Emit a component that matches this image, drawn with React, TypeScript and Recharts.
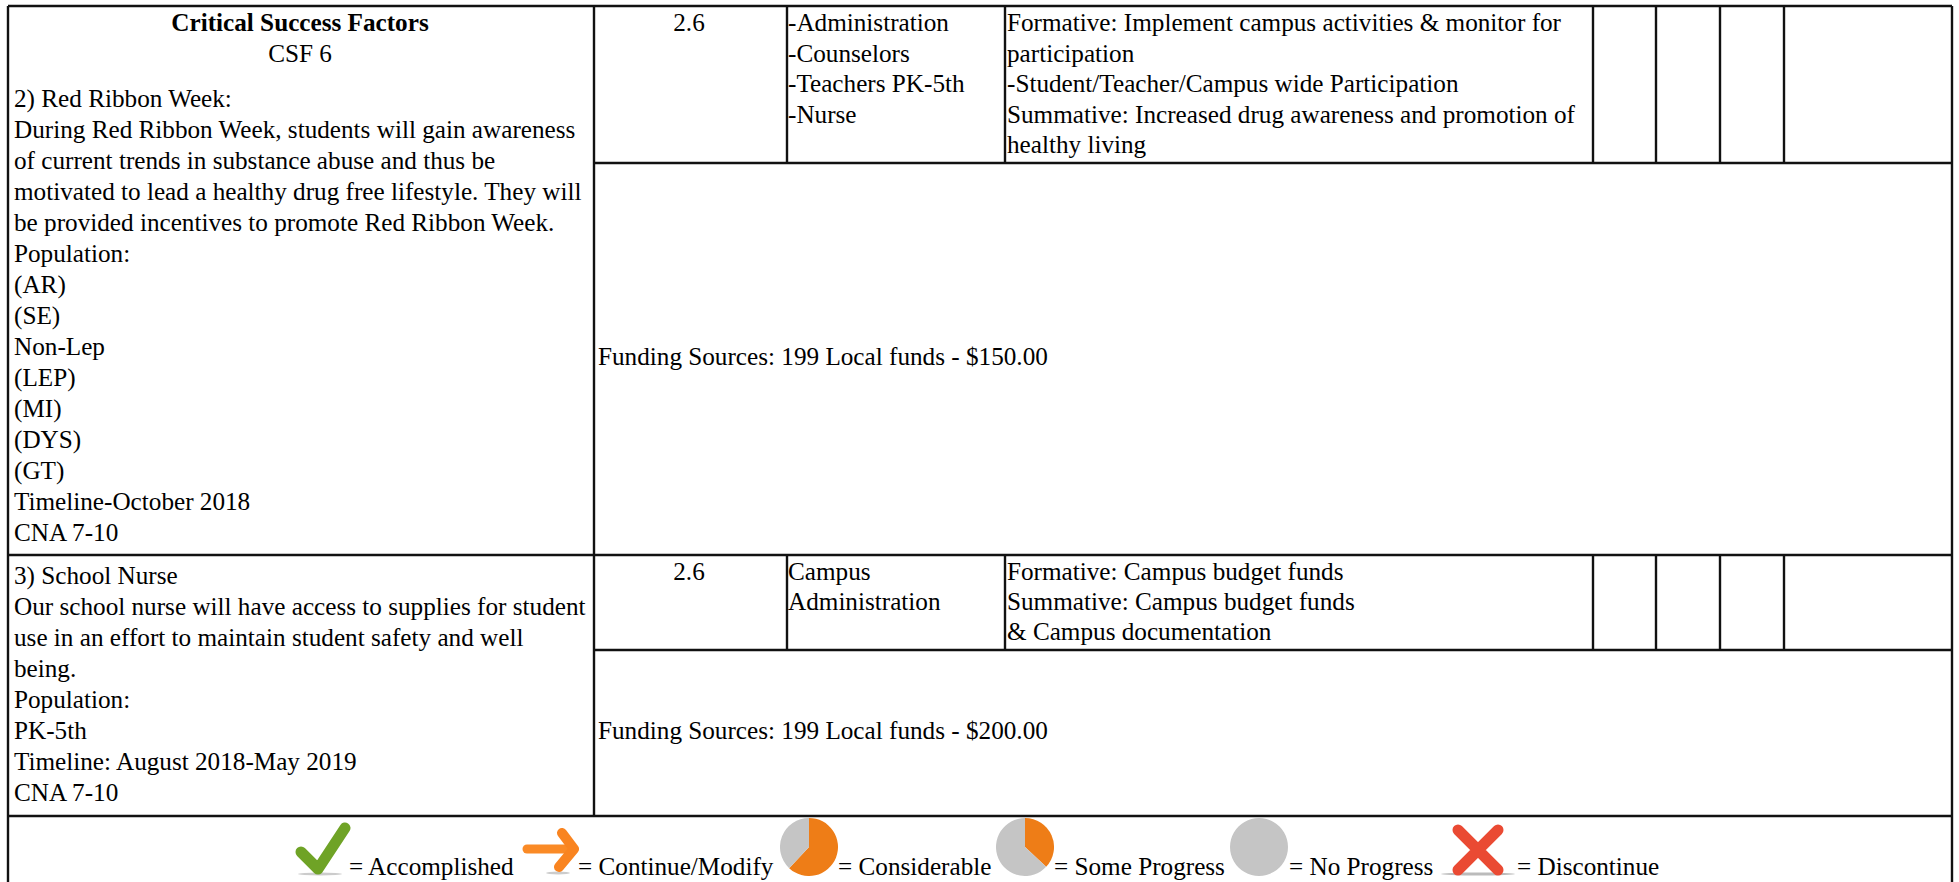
import React from "react";
import { Cell, ComposedChart, Pie, PieChart, ReferenceLine, Scatter, XAxis, YAxis } from "recharts";

const WIDTH = 1959;
const HEIGHT = 882;
const FONT = "'Liberation Serif', 'Times New Roman', serif";
const FONT_SIZE = 25.2;
const LINE = 31;

// text of the cells
const headerLines = ["Critical Success Factors", "CSF 6"];
const redRibbonLines = [
  "2) Red Ribbon Week:",
  "During Red Ribbon Week, students will gain awareness",
  "of current trends in substance abuse and thus be",
  "motivated to lead a healthy drug free lifestyle. They will",
  "be provided incentives to promote Red Ribbon Week.",
  "Population:",
  "(AR)",
  "(SE)",
  "Non-Lep",
  "(LEP)",
  "(MI)",
  "(DYS)",
  "(GT)",
  "Timeline-October 2018",
  "CNA 7-10",
];
const nurseLines = [
  "3) School Nurse",
  "Our school nurse will have access to supplies for student",
  "use in an effort to maintain student safety and well",
  "being.",
  "Population:",
  "PK-5th",
  "Timeline: August 2018-May 2019",
  "CNA 7-10",
];
const strategyRefs = ["2.6"];
const redRibbonStaff = ["-Administration", "-Counselors", "-Teachers PK-5th", "-Nurse"];
const nurseStaff = ["Campus", "Administration"];
const redRibbonEvidence = [
  "Formative: Implement campus activities & monitor for",
  "participation",
  "-Student/Teacher/Campus wide Participation",
  "Summative: Increased drug awareness and promotion of",
  "healthy living",
];
const nurseEvidence = ["Formative: Campus budget funds", "Summative: Campus budget funds", "& Campus documentation"];
const redRibbonFunding = ["Funding Sources: 199 Local funds - $150.00"];
const nurseFunding = ["Funding Sources: 199 Local funds - $200.00"];
const legendLabels = ["= Accomplished", "= Continue/Modify", "= Considerable", "= Some Progress", "= No Progress", "= Discontinue"];

// pie icons of the legend, share of orange vs grey
const considerableShares = [62, 38];
const someProgressShares = [37, 63];
const noProgressShares = [100];

// table rules
const verticalRules = [
  { x: 8, y1: 6, y2: 882 },
  { x: 1952, y1: 6, y2: 882 },
  { x: 594, y1: 6, y2: 816 },
  { x: 787, y1: 6, y2: 163 },
  { x: 1005, y1: 6, y2: 163 },
  { x: 1593, y1: 6, y2: 163 },
  { x: 1656, y1: 6, y2: 163 },
  { x: 1720, y1: 6, y2: 163 },
  { x: 1784, y1: 6, y2: 163 },
  { x: 787, y1: 555, y2: 650 },
  { x: 1005, y1: 555, y2: 650 },
  { x: 1593, y1: 555, y2: 650 },
  { x: 1656, y1: 555, y2: 650 },
  { x: 1720, y1: 555, y2: 650 },
  { x: 1784, y1: 555, y2: 650 },
];
const horizontalRules = [
  { y: 6, x1: 8, x2: 1952 },
  { y: 163, x1: 594, x2: 1952 },
  { y: 555, x1: 8, x2: 1952 },
  { y: 650, x1: 594, x2: 1952 },
  { y: 816, x1: 8, x2: 1952 },
];

type TextRow = { x: number; y: number; label: string; anchor?: string; bold?: boolean };

function block(lines: string[], x: number, y: number, anchor = "start", bold = false, step = LINE): TextRow[] {
  return lines.map((label, i) => ({ x, y: y + i * step, label, anchor, bold }));
}

const textRows: TextRow[] = [
  ...block(headerLines.slice(0, 1), 300, 31, "middle", true),
  ...block(headerLines.slice(1), 300, 62, "middle"),
  ...block(redRibbonLines, 14, 107),
  ...block(nurseLines, 14, 584),
  ...block(strategyRefs, 689, 31, "middle"),
  ...block(strategyRefs, 689, 580, "middle"),
  ...block(redRibbonStaff, 788, 31, "start", false, 30.6),
  ...block(nurseStaff, 788, 580, "start", false, 30),
  ...block(redRibbonEvidence, 1007, 31, "start", false, 30.6),
  ...block(nurseEvidence, 1007, 580, "start", false, 30),
  ...block(redRibbonFunding, 598, 365),
  ...block(nurseFunding, 598, 739),
  { x: 349, y: 875, label: legendLabels[0] },
  { x: 578, y: 875, label: legendLabels[1] },
  { x: 838, y: 875, label: legendLabels[2] },
  { x: 1054, y: 875, label: legendLabels[3] },
  { x: 1289, y: 875, label: legendLabels[4] },
  { x: 1517, y: 875, label: legendLabels[5] },
];

const iconPoints = [
  { x: 323, y: 850, kind: "check" },
  { x: 550, y: 850, kind: "arrow" },
  { x: 1478, y: 850, kind: "cross" },
];

function TextShape(props: any) {
  const row: TextRow = props.payload;
  return (
    <text
      x={props.cx}
      y={props.cy}
      textAnchor={row.anchor ?? "start"}
      fontFamily={FONT}
      fontSize={FONT_SIZE}
      fontWeight={row.bold ? "bold" : "normal"}
      fill="#000"
    >
      {row.label}
    </text>
  );
}

function IconShape(props: any) {
  const { cx, cy, payload } = props;
  const stroke = { fill: "none", strokeLinecap: "round", strokeLinejoin: "round" } as const;
  return (
    <g transform={`translate(${cx},${cy})`} style={{ filter: "blur(0.7px)" }}>
      {payload.kind === "check" && (
        <>
          <ellipse cx={-3} cy={24} rx={22} ry={1.5} fill="#ccc" />
          <path d="M-22 2 L-5 19 L22 -22" stroke="#6fa326" strokeWidth={11} {...stroke} />
        </>
      )}
      {payload.kind === "arrow" && (
        <>
          <ellipse cx={8} cy={23} rx={12} ry={1.5} fill="#ccc" />
          <path d="M-23 -1 L22 -1" stroke="#fa8a26" strokeWidth={9} {...stroke} />
          <path d="M12 -17 L24 -1 L9 17" stroke="#f98420" strokeWidth={10} {...stroke} />
        </>
      )}
      {payload.kind === "cross" && (
        <>
          <ellipse cx={0} cy={24} rx={37} ry={1.5} fill="#bbb" />
          <path d="M-20 -20 L20 20 M20 -20 L-20 20" stroke="#ea4a33" strokeWidth={11} {...stroke} />
        </>
      )}
    </g>
  );
}

function LegendPie({ left, shares }: { left: number; shares: number[] }) {
  const pieData = shares.map((value) => ({ value }));
  const colors = shares.length > 1 ? ["#ee7d17", "#c5c5c5"] : ["#c5c5c5"];
  return (
    <div style={{ position: "absolute", left, top: 818, filter: "blur(0.6px)" }}>
      <PieChart width={58} height={58} margin={{ top: 0, right: 0, bottom: 0, left: 0 }}>
        <Pie
          data={pieData}
          dataKey="value"
          cx="50%"
          cy="50%"
          outerRadius={29}
          startAngle={90}
          endAngle={-270}
          stroke="none"
          isAnimationActive={false}
        >
          {pieData.map((_, i) => (
            <Cell key={i} fill={colors[i]} />
          ))}
        </Pie>
      </PieChart>
    </div>
  );
}

export default function App() {
  return (
    <div style={{ position: "absolute", left: 0, top: 0, width: WIDTH, height: HEIGHT, overflow: "hidden", background: "#fff" }}>
      <ComposedChart width={WIDTH} height={HEIGHT} margin={{ top: 0, right: 0, bottom: 0, left: 0 }}>
        <XAxis type="number" dataKey="x" domain={[0, WIDTH]} hide />
        <YAxis type="number" dataKey="y" domain={[0, HEIGHT]} reversed hide />
        {verticalRules.map((r, i) => (
          <ReferenceLine key={`v${i}`} segment={[{ x: r.x, y: r.y1 }, { x: r.x, y: r.y2 }]} stroke="#111" strokeWidth={2.4} />
        ))}
        {horizontalRules.map((r, i) => (
          <ReferenceLine key={`h${i}`} segment={[{ x: r.x1, y: r.y }, { x: r.x2, y: r.y }]} stroke="#111" strokeWidth={2.4} />
        ))}
        <Scatter data={textRows} dataKey="y" shape={TextShape} isAnimationActive={false} />
        <Scatter data={iconPoints} dataKey="y" shape={IconShape} isAnimationActive={false} />
      </ComposedChart>
      <LegendPie left={780} shares={considerableShares} />
      <LegendPie left={996} shares={someProgressShares} />
      <LegendPie left={1230} shares={noProgressShares} />
    </div>
  );
}
